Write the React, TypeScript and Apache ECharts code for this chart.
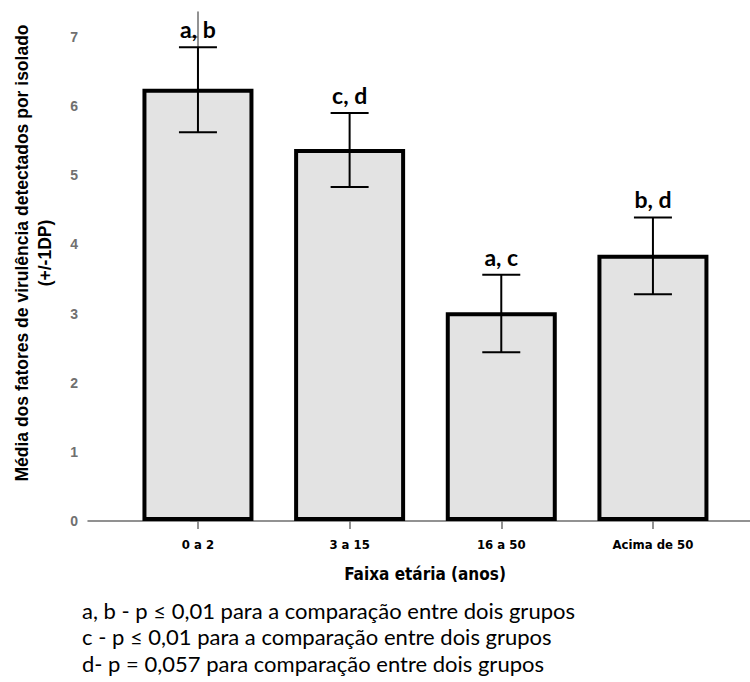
import React, { useEffect, useRef } from "react";
import * as echarts from "echarts";

const categories = ["0 a 2", "3 a 15", "16 a 50", "Acima de 50"];
const means = [6.25, 5.38, 3.02, 3.85];
const lower = [5.62, 4.83, 2.44, 3.28];
const upper = [6.85, 5.9, 3.56, 4.39];
const letters = ["a, b", "c, d", "a, c", "b, d"];
const yTicks = [0, 1, 2, 3, 4, 5, 6, 7];
const xTicks = [0, 1, 2, 3];
const yAxisTitle = ["Média dos fatores de virulência detectados por isolado", "(+/-1DP)"];
const xAxisTitle = "Faixa etária (anos)";
const footnotes = [
  "a, b - p ≤ 0,01 para a comparação entre dois grupos",
  "c - p ≤ 0,01 para a comparação entre dois grupos",
  "d- p = 0,057 para comparação entre dois grupos",
];

const NARROW = "'Liberation Sans Narrow', 'Arial Narrow', 'DejaVu Sans Condensed', 'Liberation Sans', sans-serif";
const CAL = "Lato, 'Open Sans', sans-serif";

export default function App() {
  const ref = useRef<HTMLDivElement>(null);
  useEffect(() => {
    if (!ref.current) return;
    const chart = echarts.init(ref.current, null, { renderer: "svg" });
    chart.setOption({
      animation: false,
      backgroundColor: "#ffffff",
      grid: { left: 88, right: 0, top: 12, bottom: 161, containLabel: false },
      xAxis: {
        type: "value",
        min: -0.725,
        max: 3.64,
        axisLine: { show: true, lineStyle: { color: "#6e6e6e", width: 1.5 } },
        axisTick: { show: true, length: 8, lineStyle: { color: "#6e6e6e", width: 1.5 }, customValues: xTicks },
        axisLabel: {
          customValues: xTicks,
          formatter: (v: number) => categories[Math.round(v)] ?? "",
          color: "#000",
          fontWeight: "bold",
          fontSize: 13,
          fontFamily: NARROW,
          margin: 17,
        },
        splitLine: { show: false },
      },
      yAxis: {
        type: "value",
        min: 0,
        max: 7.36,
        interval: 1,
        axisLine: { show: true, lineStyle: { color: "#6e6e6e", width: 1.5 } },
        axisTick: { show: true, length: 8, lineStyle: { color: "#6e6e6e", width: 1.5 }, customValues: yTicks },
        axisLabel: {
          customValues: yTicks,
          color: "#707070",
          fontWeight: "bold",
          fontSize: 14,
          fontFamily: "'Liberation Sans', Arial, sans-serif",
          margin: 10,
        },
        splitLine: { show: false },
      },
      series: [
        {
          type: "bar",
          data: means.map((m, i) => [i, m]),
          barWidth: 111,
          itemStyle: { color: "#e3e3e3", borderColor: "#000", borderWidth: 4 },
          z: 2,
        },
        {
          type: "custom",
          data: means.map((_, i) => [i, lower[i], upper[i]]),
          z: 5,
          renderItem: (params: any, api: any) => {
            const i = api.value(0);
            const lo = api.coord([i, api.value(1)]);
            const hi = api.coord([i, api.value(2)]);
            const hw = 19;
            const st = { stroke: "#000", lineWidth: 2 };
            return {
              type: "group",
              children: [
                { type: "line", shape: { x1: hi[0], y1: hi[1], x2: lo[0], y2: lo[1] }, style: st },
                { type: "line", shape: { x1: hi[0] - hw, y1: hi[1], x2: hi[0] + hw, y2: hi[1] }, style: st },
                { type: "line", shape: { x1: lo[0] - hw, y1: lo[1], x2: lo[0] + hw, y2: lo[1] }, style: st },
                {
                  type: "text",
                  x: hi[0],
                  y: hi[1] - 18,
                  style: {
                    text: letters[params.dataIndex],
                    textAlign: "center",
                    textVerticalAlign: "middle",
                    font: `bold 23px ${CAL}`,
                    fill: "#000",
                  },
                },
              ],
            };
          },
        },
      ],
      graphic: [
        {
          type: "text",
          x: 33,
          y: 253,
          rotation: Math.PI / 2,
          style: {
            text: yAxisTitle.join("\n"),
            textAlign: "center",
            textVerticalAlign: "middle",
            font: "bold 17.5px 'Liberation Sans', Arial, sans-serif",
            lineHeight: 23,
            fill: "#000",
          },
        },
        {
          type: "text",
          x: 425,
          y: 574,
          style: {
            text: xAxisTitle,
            textAlign: "center",
            textVerticalAlign: "middle",
            font: `bold 17px ${NARROW}`,
            fill: "#000",
          },
        },
        ...footnotes.map((t, k) => ({
          type: "text",
          x: 82,
          y: 610 + k * 26.5,
          style: {
            text: t,
            textAlign: "left",
            textVerticalAlign: "middle",
            font: `22px ${CAL}`,
            fill: "#000",
          },
        })),
      ],
    });
    return () => chart.dispose();
  }, []);
  return (
    <div
      ref={ref}
      style={{ position: "fixed", left: 0, top: 0, width: 750, height: 682, background: "#fff" }}
    />
  );
}
